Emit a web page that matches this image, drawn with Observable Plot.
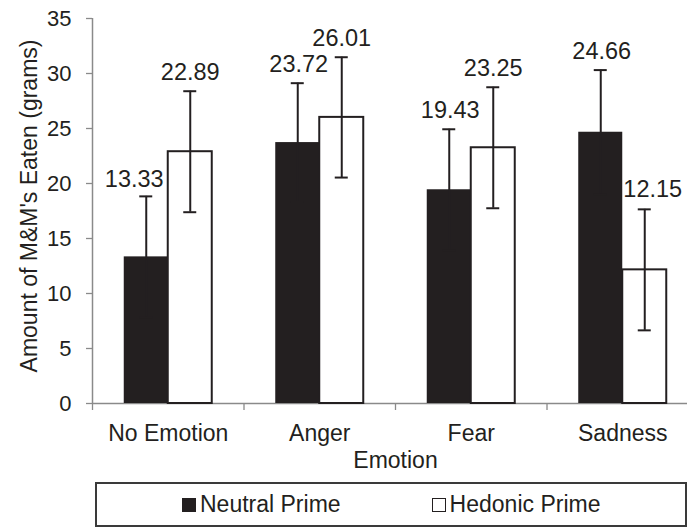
<!DOCTYPE html>
<html>
<head>
<meta charset="utf-8">
<script src="https://cdn.jsdelivr.net/npm/d3@7"></script>
<script src="https://cdn.jsdelivr.net/npm/@observablehq/plot@0.6"></script>
<style>
  html, body { margin: 0; padding: 0; background: #fff; }
  #wrap { position: relative; width: 687px; height: 527px; overflow: hidden; font-family: "Liberation Sans", Arial, sans-serif; color: #231f20; }
  #legend { position: absolute; left: 95px; top: 482px; width: 592px; height: 45px; box-sizing: border-box;
            border: 2px solid #3a3a3a; display: flex; align-items: center; padding-left: 85px; gap: 91px; font-size: 23px; }
  .item { display: flex; align-items: center; gap: 4px; }
  .sw { width: 14px; height: 14px; box-sizing: border-box; }
</style>
</head>
<body>
<div id="wrap"><div id="chart"></div><div id="legend"></div></div>
<script>
const emotions = ["No Emotion", "Anger", "Fear", "Sadness"];
const neutralMeans = [13.33, 23.72, 19.43, 24.66];
const hedonicMeans = [22.89, 26.01, 23.25, 12.15];
const neutralErr = [5.5, 5.4, 5.5, 5.65];
const hedonicErr = [5.5, 5.47, 5.5, 5.5];
const seriesNames = ["Neutral Prime", "Hedonic Prime"];
const yTicks = [0, 5, 10, 15, 20, 25, 30, 35];
const xTitle = "Emotion";
const yTitle = "Amount of M&M's Eaten (grams)";

const dark = "#231f20";
const grey = "#8a8a8a";
const W = 687, H = 480, mL = 92, mR = -11, mT = 18, mB = 77;
const frameW = W - mR - mL, frameH = H - mT - mB;
const bw = frameW / emotions.length;
const barW = 44, capW = 13, off = 22;

const neutral = emotions.map((e, i) => ({emotion: e, value: neutralMeans[i], err: neutralErr[i], other: hedonicMeans[i]}));
const hedonic = emotions.map((e, i) => ({emotion: e, value: hedonicMeans[i], err: hedonicErr[i], other: neutralMeans[i]}));
// a label is nudged aside when it would sit over the neighbouring taller bar
const blocked = d => d.other > d.value + d.err + 1;

const fmt = d => d.value.toFixed(2);
const errTop = d => d.value + d.err;
const errBot = d => d.value - d.err;
const capInset = (bw - capW) / 2;

const chart = Plot.plot({
  width: W, height: H,
  marginLeft: mL, marginRight: mR, marginTop: mT, marginBottom: mB,
  style: {fontFamily: "'Liberation Sans', Arial, sans-serif", fontSize: "23px", color: dark, background: "white", overflow: "visible"},
  x: {domain: emotions, padding: 0, round: false, axis: null},
  y: {domain: [0, 35], label: null, axis: null},
  marks: [
    // y axis: line, ticks, labels
    Plot.ruleX([emotions[0]], {x: d => d, dx: -bw / 2, stroke: grey, strokeWidth: 1.5}),
    Plot.ruleY(yTicks, {y: d => d, insetLeft: -6, insetRight: frameW, stroke: grey, strokeWidth: 1.3}),
    Plot.text(yTicks, {y: d => d, text: d => String(d), frameAnchor: "left", dx: -21, textAnchor: "end", fill: dark, fontSize: 22}),
    // x axis: line, boundary ticks, labels
    Plot.ruleX(emotions, {x: d => d, dx: -bw / 2, insetTop: frameH, insetBottom: -7, stroke: grey, strokeWidth: 1.3}),
    Plot.text(emotions, {x: d => d, text: d => d, frameAnchor: "bottom", dy: 21, lineAnchor: "top", fill: dark, fontSize: 23}),
    Plot.ruleY([0], {stroke: grey, strokeWidth: 1.5}),
    // bars
    Plot.barY(neutral, {x: "emotion", y: "value", fill: dark, insetLeft: bw / 2 - barW, insetRight: bw / 2}),
    Plot.barY(hedonic, {x: "emotion", y: "value", fill: "white", stroke: dark, strokeWidth: 2, insetLeft: bw / 2, insetRight: bw / 2 - barW}),
    // error bars
    Plot.ruleX(neutral, {x: "emotion", y1: errBot, y2: errTop, dx: -off, stroke: dark, strokeWidth: 2}),
    Plot.ruleX(hedonic, {x: "emotion", y1: errBot, y2: errTop, dx: off, stroke: dark, strokeWidth: 2}),
    Plot.tickY(neutral, {x: "emotion", y: errTop, dx: -off, insetLeft: capInset, insetRight: capInset, stroke: dark, strokeWidth: 2}),
    Plot.tickY(neutral, {x: "emotion", y: errBot, dx: -off, insetLeft: capInset, insetRight: capInset, stroke: dark, strokeWidth: 2}),
    Plot.tickY(hedonic, {x: "emotion", y: errTop, dx: off, insetLeft: capInset, insetRight: capInset, stroke: dark, strokeWidth: 2}),
    Plot.tickY(hedonic, {x: "emotion", y: errBot, dx: off, insetLeft: capInset, insetRight: capInset, stroke: dark, strokeWidth: 2}),
    // value labels
    Plot.text(neutral, {filter: d => !blocked(d), x: "emotion", y: errTop, text: fmt, dx: -off + 1, dy: -11, lineAnchor: "bottom", fill: dark, fontSize: 23.5}),
    Plot.text(neutral, {filter: blocked, x: "emotion", y: errTop, text: fmt, dx: -off - 12, dy: -9, lineAnchor: "bottom", fill: dark, fontSize: 23.5}),
    Plot.text(hedonic, {filter: d => !blocked(d), x: "emotion", y: errTop, text: fmt, dx: off, dy: -11, lineAnchor: "bottom", fill: dark, fontSize: 23.5}),
    Plot.text(hedonic, {filter: blocked, x: "emotion", y: errTop, text: fmt, dx: off + 8, dy: -12, lineAnchor: "bottom", fill: dark, fontSize: 23.5}),
    // axis titles
    Plot.text([xTitle], {text: d => d, frameAnchor: "bottom", dy: 64, lineAnchor: "bottom", fill: dark, fontSize: 23}),
    Plot.text([yTitle], {text: d => d, frameAnchor: "left", rotate: -90, dx: -56, dy: -5, lineAnchor: "bottom", textAnchor: "middle", fill: dark, fontSize: 23})
  ]
});
chart.style.maxWidth = "none";
document.getElementById("chart").appendChild(chart);

const legend = document.getElementById("legend");
seriesNames.forEach((name, i) => {
  const item = document.createElement("div");
  item.className = "item";
  const sw = document.createElement("div");
  sw.className = "sw";
  sw.style.background = i === 0 ? dark : "white";
  sw.style.border = i === 0 ? "none" : "1.5px solid " + dark;
  const label = document.createElement("span");
  label.textContent = name;
  item.appendChild(sw);
  item.appendChild(label);
  legend.appendChild(item);
});
</script>
</body>
</html>
